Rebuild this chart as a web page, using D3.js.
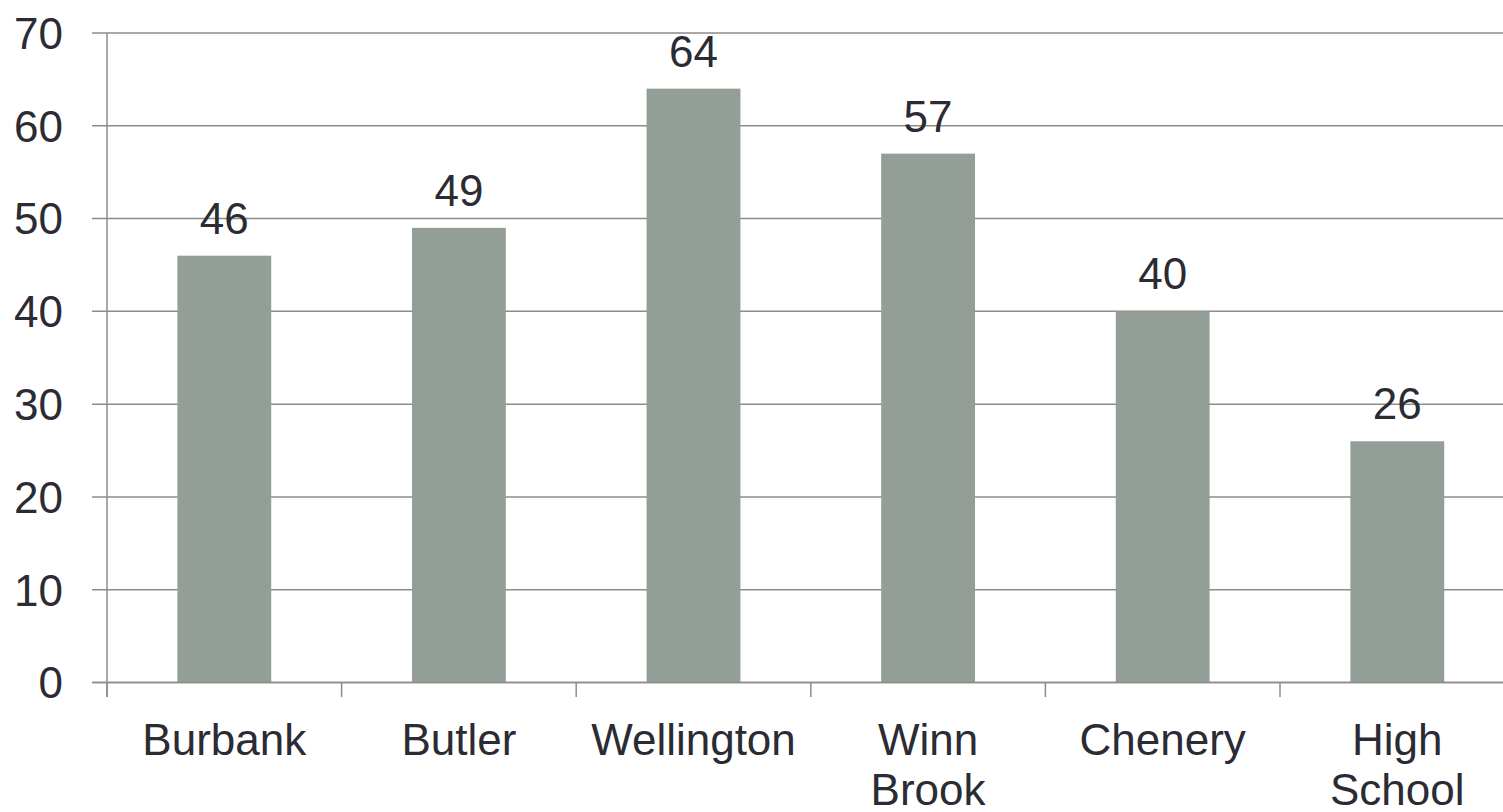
<!DOCTYPE html>
<html>
<head>
<meta charset="utf-8">
<script src="https://cdn.jsdelivr.net/npm/d3@7"></script>
<style>
  body { margin: 0; background: #fff; }
  svg { display: block; }
  text { font-family: "Liberation Sans", Arial, sans-serif; fill: #2b2b33; }
</style>
</head>
<body>
<div id="chart"></div>
<script>
// data
var schools = ["Burbank", "Butler", "Wellington", "Winn Brook", "Chenery", "High School"];
var counts = [46, 49, 64, 57, 40, 26];
var yTicks = [0, 10, 20, 30, 40, 50, 60, 70];

var W = 1503, H = 812;
var margin = {top: 33, left: 107, bottom: 812 - 682.5};

var svg = d3.select("#chart")
  .append("svg")
  .attr("width", W)
  .attr("height", H);

var step = 234.6;
// six bands, last one runs past the right edge of the window
var x = d3.scaleBand()
  .domain(schools)
  .range([margin.left, margin.left + step * schools.length])
  .paddingInner(0.6)
  .paddingOuter(0.3);

var y = d3.scaleLinear()
  .domain([0, 70])
  .range([682.5, 33]);

var gridColor = "#8c8c8c";

// horizontal grid lines + y ticks
svg.append("g")
  .selectAll("line")
  .data(yTicks)
  .enter()
  .append("line")
  .attr("x1", 92)
  .attr("x2", W)
  .attr("y1", function(d) { return y(d); })
  .attr("y2", function(d) { return y(d); })
  .attr("stroke", gridColor)
  .attr("stroke-width", 1.5);

// y labels
svg.append("g")
  .selectAll("text")
  .data(yTicks)
  .enter()
  .append("text")
  .attr("x", 63)
  .attr("y", function(d) { return y(d); })
  .attr("dy", "0.36em")
  .attr("text-anchor", "end")
  .style("font-size", "44px")
  .text(function(d) { return d; });

// y axis line
svg.append("line")
  .attr("x1", margin.left).attr("x2", margin.left)
  .attr("y1", y(70)).attr("y2", 697)
  .attr("stroke", gridColor)
  .attr("stroke-width", 1.5);

// category tick marks at band boundaries
var boundaries = d3.range(schools.length + 1).map(function(i) { return margin.left + i * x.step(); });
svg.append("g")
  .selectAll("line")
  .data(boundaries)
  .enter()
  .append("line")
  .attr("x1", function(d) { return d; })
  .attr("x2", function(d) { return d; })
  .attr("y1", y(0))
  .attr("y2", 697)
  .attr("stroke", gridColor)
  .attr("stroke-width", 1.5);

// bars
svg.selectAll("rect.bar")
  .data(counts)
  .enter()
  .append("rect")
  .attr("class", "bar")
  .attr("x", function(d, i) { return x(schools[i]); })
  .attr("width", x.bandwidth())
  .attr("y", function(d) { return y(d); })
  .attr("height", function(d) { return y(0) - y(d); })
  .attr("fill", "#939f96");

// redraw baseline on top of bars
svg.append("line")
  .attr("x1", 92).attr("x2", W)
  .attr("y1", y(0)).attr("y2", y(0))
  .attr("stroke", gridColor)
  .attr("stroke-width", 1.5);

// value labels
svg.selectAll("text.val")
  .data(counts)
  .enter()
  .append("text")
  .attr("class", "val")
  .attr("x", function(d, i) { return x(schools[i]) + x.bandwidth() / 2; })
  .attr("y", function(d) { return y(d) - 22; })
  .attr("text-anchor", "middle")
  .style("font-size", "44px")
  .text(function(d) { return d; });

// category labels, two words wrap onto two lines
svg.selectAll("text.cat")
  .data(schools)
  .enter()
  .append("text")
  .attr("class", "cat")
  .attr("x", function(d) { return x(d) + x.bandwidth() / 2; })
  .attr("y", 755)
  .attr("text-anchor", "middle")
  .style("font-size", "44px")
  .each(function(d) {
    var words = d.split(" ");
    var t = d3.select(this);
    words.forEach(function(w, i) {
      t.append("tspan")
        .attr("x", x(d) + x.bandwidth() / 2)
        .attr("dy", i == 0 ? 0 : 50)
        .text(w);
    });
  });
</script>
</body>
</html>
